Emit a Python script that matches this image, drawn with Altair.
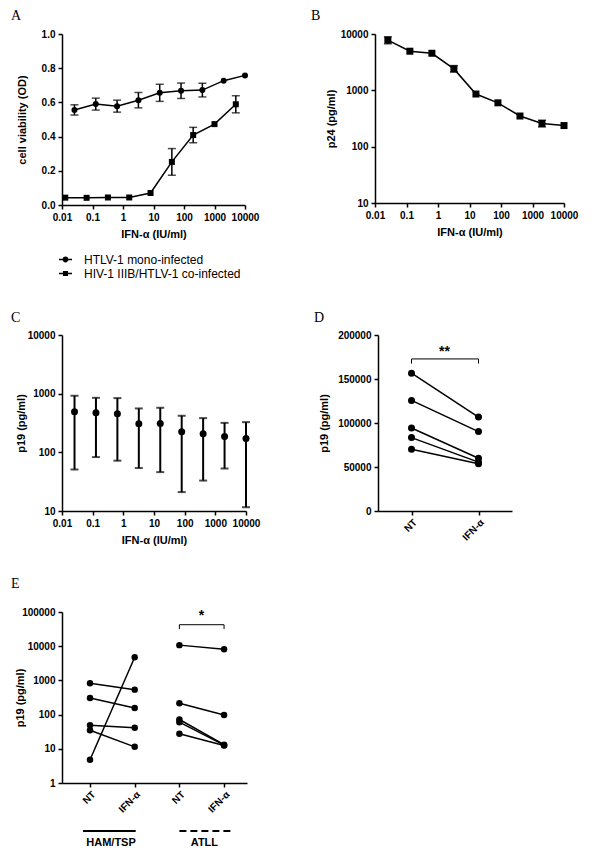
import altair as alt
import pandas as pd

FONT = "Liberation Sans"
SERIF = "Liberation Serif"

# ---------------- Panel A : cell viability ----------------
A_mono_label = "HTLV-1 mono-infected"
A_co_label = "HIV-1 IIIB/HTLV-1 co-infected"
A_mono_conc = [0.0256, 0.128, 0.64, 3.2, 16, 80, 400, 2000, 10000]
A_mono_od = [0.556, 0.590, 0.578, 0.613, 0.656, 0.668, 0.672, 0.727, 0.758]
A_mono_err = [0.030, 0.035, 0.035, 0.045, 0.050, 0.045, 0.040, 0.0, 0.0]
A_co_conc = [0.0128, 0.064, 0.32, 1.6, 8, 40, 200, 1000, 5000]
A_co_od = [0.043, 0.042, 0.044, 0.044, 0.070, 0.252, 0.409, 0.473, 0.589]
A_co_err = [0.0, 0.0, 0.0, 0.0, 0.0, 0.078, 0.045, 0.0, 0.050]

# ---------------- Panel B : p24 ----------------
B_conc = [0.0256, 0.128, 0.64, 3.2, 16, 80, 400, 2000, 10000]
B_p24 = [7800, 4950, 4550, 2400, 860, 600, 350, 258, 237]
B_lo = [6700, None, None, 2120, None, None, None, 224, None]
B_hi = [8900, None, None, 2750, None, None, None, 295, None]

# ---------------- Panel C : p19 dose ----------------
C_conc = [0.0256, 0.128, 0.64, 3.2, 16, 80, 400, 2000, 10000]
C_p19 = [490, 472, 455, 306, 310, 224, 207, 186, 172]
C_lo = [51, 83, 72, 54, 46, 21, 33, 53, 11.6]
C_hi = [920, 850, 840, 560, 575, 420, 383, 318, 327]

# ---------------- Panel D : paired p19 ----------------
D_conditions = ["NT", "IFN-α"]
D_nt = [156600, 125700, 94300, 83400, 70200]
D_ifn = [106800, 90200, 60000, 55500, 53600]
D_sig = "**"
D_bar_y = 172800
D_tip_y = 167500
D_sig_y = 181000

# ---------------- Panel E : patients ----------------
E_cats = ["HAM/TSP|NT", "HAM/TSP|IFN-α", "ATLL|NT", "ATLL|IFN-α"]
E_groups = ["HAM/TSP", "ATLL"]
E_ham_nt = [824, 306, 49, 35, 4.8]
E_ham_ifn = [537, 156, 41, 11.4, 4775]
E_atll_nt = [10750, 215, 72, 60, 27.5]
E_atll_ifn = [8200, 97, 13.2, 12.8, 12.5]
E_sig = "*"
E_bar_y = 42500
E_tip_y = 31600
E_sig_y = 78000

IFN_TICKS = [0.01, 0.1, 1, 10, 100, 1000, 10000]
IFN_TITLE = "IFN-α (IU/ml)"

# ---------------- data tables ----------------
dfA = pd.DataFrame(
    [dict(series=A_mono_label, conc=c, od=v, lo=v - e, hi=v + e, err=e)
     for c, v, e in zip(A_mono_conc, A_mono_od, A_mono_err)]
    + [dict(series=A_co_label, conc=c, od=v, lo=v - e, hi=v + e, err=e)
       for c, v, e in zip(A_co_conc, A_co_od, A_co_err)]
)
dfA_err = dfA[dfA["err"] > 0]

dfB = pd.DataFrame(dict(conc=B_conc, p24=B_p24, lo=B_lo, hi=B_hi))
dfB_err = dfB.dropna()

dfC = pd.DataFrame(dict(conc=C_conc, p19=C_p19, lo=C_lo, hi=C_hi))

dfD = pd.DataFrame(
    [dict(pair=i, cond=D_conditions[0], p19=a) for i, a in enumerate(D_nt)]
    + [dict(pair=i, cond=D_conditions[1], p19=b) for i, b in enumerate(D_ifn)]
)
dfD_bar = pd.DataFrame([dict(x1=D_conditions[0], x2=D_conditions[1], y=D_bar_y)])
dfD_tip = pd.DataFrame([dict(x=c, y=D_bar_y, y2=D_tip_y) for c in D_conditions])
dfD_sig = pd.DataFrame([dict(x=D_conditions[0], y=D_sig_y, t=D_sig)])

rowsE = []
for i, (a, b) in enumerate(zip(E_ham_nt, E_ham_ifn)):
    rowsE += [dict(pair=f"h{i}", cat=E_cats[0], p19=a), dict(pair=f"h{i}", cat=E_cats[1], p19=b)]
for i, (a, b) in enumerate(zip(E_atll_nt, E_atll_ifn)):
    rowsE += [dict(pair=f"a{i}", cat=E_cats[2], p19=a), dict(pair=f"a{i}", cat=E_cats[3], p19=b)]
dfE = pd.DataFrame(rowsE)
dfE_bar = pd.DataFrame([dict(x1=E_cats[2], x2=E_cats[3], y=E_bar_y)])
dfE_tip = pd.DataFrame([dict(x=E_cats[2], y=E_bar_y, y2=E_tip_y), dict(x=E_cats[3], y=E_bar_y, y2=E_tip_y)])
dfE_sig = pd.DataFrame([dict(x=E_cats[2], y=E_sig_y, t=E_sig)])
dfE_grp_ham = pd.DataFrame([dict(x1=E_cats[0], x2=E_cats[1], g=E_groups[0])])
dfE_grp_atll = pd.DataFrame([dict(x1=E_cats[2], x2=E_cats[3], g=E_groups[1])])

# ---------------- helpers ----------------
def x_ifn(field="conc"):
    return alt.X(f"{field}:Q", title=IFN_TITLE,
                 scale=alt.Scale(type="log", domain=[0.01, 10000], nice=False),
                 axis=alt.Axis(values=IFN_TICKS, format="~g", titleY=29, titleBaseline="middle"))

def y_enc(field, title, scale, values, fmt, tx):
    return alt.Y(f"{field}:Q", title=title, scale=scale,
                 axis=alt.Axis(values=values, format=fmt, titleX=tx, titleBaseline="middle"))

def letter(t, dx, off):
    return alt.TitleParams(t, anchor="start", frame="group", dx=dx, offset=off, font=SERIF, fontSize=14,
                           fontWeight="normal", color="black", baseline="alphabetic")

LW = 1.5

# ---------------- Panel A ----------------
sA = alt.Scale(domain=[0, 1], nice=False)
yA = lambda f: y_enc(f, "cell viability (OD)", sA, [0, 0.2, 0.4, 0.6, 0.8, 1.0], ".1f", -40)

# legend glyphs: marker with a short line on each side (all filled sub-paths)
CIRCLE_PATH = ("M-1,-0.12H-0.45V0.12H-1Z M0.45,-0.12H1V0.12H0.45Z "
               "M0.45,0A0.45,0.45,0,1,1,-0.45,0A0.45,0.45,0,1,1,0.45,0Z")
SQUARE_PATH = ("M-1,-0.12H-0.4V0.12H-1Z M0.4,-0.12H1V0.12H0.4Z "
               "M-0.4,-0.4H0.4V0.4H-0.4Z")

a_line = alt.Chart(dfA).mark_line(color="black", strokeWidth=LW).encode(
    x=x_ifn(), y=yA("od"), detail="series:N")
a_err = alt.Chart(dfA_err).mark_errorbar(ticks=True, size=8, thickness=LW, color="black").encode(
    x=x_ifn(), y=yA("lo"), y2="hi:Q")
a_circ = alt.Chart(dfA).transform_filter(alt.datum.series == A_mono_label).mark_point(
    shape="circle", filled=True, size=36, color="black", opacity=1).encode(x=x_ifn(), y=yA("od"))
a_sq = alt.Chart(dfA).transform_filter(alt.datum.series == A_co_label).mark_point(
    shape="square", filled=True, size=36, color="black", opacity=1).encode(x=x_ifn(), y=yA("od"))
a_leg = alt.Chart(pd.DataFrame(dict(series=[A_mono_label, A_co_label]))).transform_filter("false").mark_point(
    filled=True, color="black", opacity=1, size=169).encode(
    shape=alt.Shape("series:N", title=None,
                    scale=alt.Scale(domain=[A_mono_label, A_co_label], range=[CIRCLE_PATH, SQUARE_PATH]),
                    legend=alt.Legend(orient="none", legendX=-4, legendY=218, symbolSize=169,
                                      symbolFillColor="black", symbolOpacity=1,
                                      labelFont=FONT, labelFontSize=12, labelColor="black",
                                      labelOffset=11, rowPadding=0, padding=0)))
panelA = alt.layer(a_line, a_err, a_circ, a_sq, a_leg).properties(
    width=183, height=171, title=letter("A", -51, -5))

# ---------------- Panel B ----------------
sB = alt.Scale(type="log", domain=[10, 10000], nice=False)
yB = lambda f: y_enc(f, "p24 (pg/ml)", sB, [10, 100, 1000, 10000], "d", -44)
b_line = alt.Chart(dfB).mark_line(color="black", strokeWidth=LW).encode(x=x_ifn(), y=yB("p24"))
b_err = alt.Chart(dfB_err).mark_errorbar(ticks=True, size=8, thickness=LW, color="black").encode(
    x=x_ifn(), y=yB("lo"), y2="hi:Q")
b_pts = alt.Chart(dfB).mark_point(shape="square", filled=True, size=49, color="black", opacity=1).encode(
    x=x_ifn(), y=yB("p24"))
panelB = alt.layer(b_line, b_err, b_pts).properties(width=189, height=169, title=letter("B", -64, -5))

# ---------------- Panel C ----------------
sC = alt.Scale(type="log", domain=[10, 10000], nice=False)
yC = lambda f: y_enc(f, "p19 (pg/ml)", sC, [10, 100, 1000, 10000], "d", -41)
c_err = alt.Chart(dfC).mark_errorbar(ticks=True, size=8, thickness=2, color="black").encode(
    x=x_ifn(), y=yC("lo"), y2="hi:Q")
c_pts = alt.Chart(dfC).mark_point(shape="circle", filled=True, size=49, color="black", opacity=1).encode(
    x=x_ifn(), y=yC("p19"))
panelC = alt.layer(c_err, c_pts).properties(width=184, height=176, title=letter("C", -51, -5.5))

# ---------------- Panel D ----------------
sDx = alt.Scale(type="point", domain=D_conditions, padding=0.5)
def xD(f):
    return alt.X(f"{f}:N", title=None, scale=sDx, sort=D_conditions,
                 axis=alt.Axis(labelAngle=315, labelPadding=2))
sDy = alt.Scale(domain=[0, 200000], nice=False)
yD = lambda f: y_enc(f, "p19 (pg/ml)", sDy, [0, 50000, 100000, 150000, 200000], "d", -54)
d_line = alt.Chart(dfD).mark_line(color="black", strokeWidth=LW).encode(x=xD("cond"), y=yD("p19"), detail="pair:N")
d_pts = alt.Chart(dfD).mark_point(shape="circle", filled=True, size=49, color="black", opacity=1).encode(
    x=xD("cond"), y=yD("p19"))
d_bar = alt.Chart(dfD_bar).mark_rule(color="black", strokeWidth=1).encode(x=xD("x1"), x2="x2:N", y=yD("y"))
d_tip = alt.Chart(dfD_tip).mark_rule(color="black", strokeWidth=1).encode(x=xD("x"), y=yD("y"), y2="y2:Q")
d_sig = alt.Chart(dfD_sig).mark_text(font=FONT, fontWeight="bold", fontSize=14, dx=33, color="black").encode(
    x=xD("x"), y=yD("y"), text="t:N")
panelD = alt.layer(d_line, d_pts, d_bar, d_tip, d_sig).properties(
    width=134, height=176, title=letter("D", -64, -5.5))

# ---------------- Panel E ----------------
sEx = alt.Scale(type="point", domain=E_cats, padding=0.57, align=0.55)
def xE(f):
    return alt.X(f"{f}:N", title=None, scale=sEx, sort=E_cats,
                 axis=alt.Axis(labelAngle=315, labelPadding=2, labelExpr="split(datum.value, '|')[1]"))
sEy = alt.Scale(type="log", domain=[1, 100000], nice=False)
yE = lambda f: y_enc(f, "p19 (pg/ml)", sEy, [1, 10, 100, 1000, 10000, 100000], "d", -42)
e_line = alt.Chart(dfE).mark_line(color="black", strokeWidth=LW).encode(x=xE("cat"), y=yE("p19"), detail="pair:N")
e_pts = alt.Chart(dfE).mark_point(shape="circle", filled=True, size=42, color="black", opacity=1).encode(
    x=xE("cat"), y=yE("p19"))
e_bar = alt.Chart(dfE_bar).mark_rule(color="black", strokeWidth=1).encode(x=xE("x1"), x2="x2:N", y=yE("y"))
e_tip = alt.Chart(dfE_tip).mark_rule(color="black", strokeWidth=1).encode(x=xE("x"), y=yE("y"), y2="y2:Q")
e_sig = alt.Chart(dfE_sig).mark_text(font=FONT, fontWeight="bold", fontSize=14, dx=22, color="black").encode(
    x=xE("x"), y=yE("y"), text="t:N")
e_grp1 = alt.Chart(dfE_grp_ham).mark_rule(color="black", strokeWidth=2, xOffset=-7, x2Offset=1).encode(
    x=xE("x1"), x2="x2:N", y=alt.value(219))
e_grp2 = alt.Chart(dfE_grp_atll).mark_rule(color="black", strokeWidth=2, strokeDash=[7, 4], x2Offset=7).encode(
    x=xE("x1"), x2="x2:N", y=alt.value(219))
e_txt1 = alt.Chart(dfE_grp_ham).mark_text(font=FONT, fontWeight="bold", fontSize=11, dx=21, color="black").encode(
    x=xE("x1"), y=alt.value(231), text="g:N")
e_txt2 = alt.Chart(dfE_grp_atll).mark_text(font=FONT, fontWeight="bold", fontSize=11, dx=25, color="black").encode(
    x=xE("x1"), y=alt.value(231), text="g:N")
panelE = alt.layer(e_line, e_pts, e_bar, e_tip, e_sig, e_grp1, e_grp2, e_txt1, e_txt2).properties(
    width=185, height=171, title=letter("E", -51, 5.5))

row1 = alt.hconcat(panelA, panelB, spacing=50)
row2 = alt.hconcat(panelC, panelD, spacing=52)

chart = alt.vconcat(
    alt.vconcat(row1, row2, spacing=70),
    panelE, spacing=30,
).properties(
    padding={"left": 2, "top": 0, "right": 0, "bottom": 0}
).configure_axis(
    domainColor="black", domainWidth=1.5, tickColor="black", tickWidth=1.5, tickSize=4,
    labelFont=FONT, labelFontWeight="bold", labelFontSize=10, labelColor="black", labelPadding=3,
    labelFlush=False, labelOverlap=False,
    titleFont=FONT, titleFontWeight="bold", titleFontSize=11, titleColor="black", grid=False,
).configure_view(stroke="transparent")

chart.save("out.html", embed_options={"renderer": "svg", "actions": False})
